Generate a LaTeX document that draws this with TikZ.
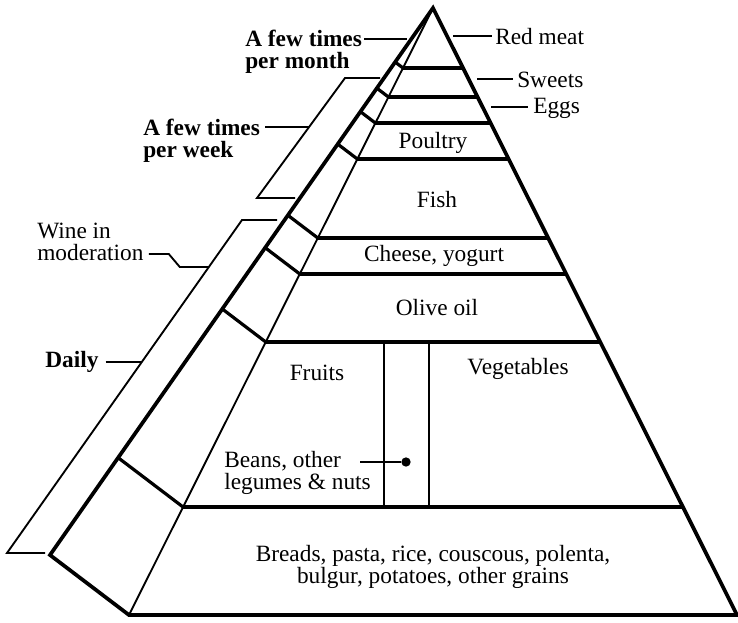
\documentclass[tikz,border=0pt]{standalone}
\usepackage{fontspec}
\setmainfont{Liberation Serif}
\usetikzlibrary{calc}
\tikzset{
	foodtext/.style={font=\fontsize{17.5}{16.5}\selectfont, inner sep=0pt, align=center}
}
\tikzset{
	freqtext/.style={font=\fontsize{17.5}{16.5}\selectfont\bfseries, inner sep=0pt, align=left, anchor=west}
}
\tikzset{
	edgeline/.style={line width=2.8pt},
	levelline/.style={line width=2.4pt},
	thinline/.style={line width=1.4pt}
}

\begin{document}
\begin{tikzpicture}[x=0.75pt,y=-0.75pt]
\useasboundingbox (0,0) rectangle (738,622);

			\begin{scope}
				\coordinate (apex) at (433,8);
				\coordinate (fl) at (129,615);
				\coordinate (fr) at (737,615);
				\coordinate (ol) at (50,555);

				\coordinate (lSw) at ($(apex)!0.0988!(fl)$);
				\coordinate (lEg) at ($(apex)!0.1466!(fl)$);
				\coordinate (lPo) at ($(apex)!0.1895!(fl)$);
				\coordinate (lFi) at ($(apex)!0.2488!(fl)$);
				\coordinate (lCh) at ($(apex)!0.3789!(fl)$);
				\coordinate (lOl) at ($(apex)!0.4382!(fl)$);
				\coordinate (lFr) at ($(apex)!0.5502!(fl)$);
				\coordinate (lBr) at ($(apex)!0.8221!(fl)$);

				\coordinate (rSw) at ($(apex)!0.0988!(fr)$);
				\coordinate (rEg) at ($(apex)!0.1466!(fr)$);
				\coordinate (rPo) at ($(apex)!0.1895!(fr)$);
				\coordinate (rFi) at ($(apex)!0.2488!(fr)$);
				\coordinate (rCh) at ($(apex)!0.3789!(fr)$);
				\coordinate (rOl) at ($(apex)!0.4382!(fr)$);
				\coordinate (rFr) at ($(apex)!0.5502!(fr)$);
				\coordinate (rBr) at ($(apex)!0.8221!(fr)$);

				\coordinate (oSw) at ($(apex)!0.0988!(ol)$);
				\coordinate (oEg) at ($(apex)!0.1466!(ol)$);
				\coordinate (oPo) at ($(apex)!0.1895!(ol)$);
				\coordinate (oFi) at ($(apex)!0.2488!(ol)$);
				\coordinate (oCh) at ($(apex)!0.3789!(ol)$);
				\coordinate (oOl) at ($(apex)!0.4382!(ol)$);
				\coordinate (oFr) at ($(apex)!0.5502!(ol)$);
				\coordinate (oBr) at ($(apex)!0.8221!(ol)$);

				\draw[thinline] (apex) -- (fl);

				\draw[levelline] (lSw) -- (rSw);
				\draw[levelline] (lEg) -- (rEg);
				\draw[levelline] (lPo) -- (rPo);
				\draw[levelline] (lFi) -- (rFi);
				\draw[levelline] (lCh) -- (rCh);
				\draw[levelline] (lOl) -- (rOl);
				\draw[levelline] (lFr) -- (rFr);
				\draw[levelline] (lBr) -- (rBr);

				\draw[levelline] (lSw) -- (oSw);
				\draw[levelline] (lEg) -- (oEg);
				\draw[levelline] (lPo) -- (oPo);
				\draw[levelline] (lFi) -- (oFi);
				\draw[levelline] (lCh) -- (oCh);
				\draw[levelline] (lOl) -- (oOl);
				\draw[levelline] (lFr) -- (oFr);
				\draw[levelline] (lBr) -- (oBr);

				\draw[edgeline] (fr) -- (apex) -- (ol) -- (fl) -- cycle;
			\end{scope}

			\begin{scope}
				\coordinate (vAt) at (384,342);
				\coordinate (vAb) at (384,507);
				\coordinate (vBt) at (429,342);
				\coordinate (vBb) at (429,507);
				\draw[line width=2pt] (vAt) -- (vAb);
				\draw[line width=2pt] (vBt) -- (vBb);
			\end{scope}

			\node[foodtext] (poultry) at (433,143) {Poultry};
			\node[foodtext] (fish) at (437,200) {Fish};
			\node[foodtext] (cheese) at (434,256) {Cheese, yogurt};
			\node[foodtext] (olive) at (437,308) {Olive oil};
			\node[foodtext] (fruits) at (317,373) {Fruits};
			\node[foodtext] (veg) at (518,369) {Vegetables};
			\node[foodtext] (breads) at (433,567) {Breads, pasta, rice, couscous, polenta,\\bulgur, potatoes, other grains};

			\begin{scope}
				\node[foodtext, anchor=west] (redmeat) at (495,37) {Red meat};
				\node[foodtext, anchor=west] (sweets) at (517,80) {Sweets};
				\node[foodtext, anchor=west] (eggs) at (533,108) {Eggs};

				\coordinate (rmL) at (453,36);
				\coordinate (swL) at (477,79);
				\coordinate (egL) at (491,107);

				\draw[thinline, shorten >=2pt] (rmL) -- (rmL -| redmeat.west);
				\draw[thinline, shorten >=3pt] (swL) -- (swL -| sweets.west);
				\draw[thinline, shorten >=4pt] (egL) -- (egL -| eggs.west);
			\end{scope}

			\begin{scope}
				\node[foodtext, align=left, anchor=west] (beans) at (224,473) {Beans, other\\legumes \& nuts};
				\node[circle, fill, inner sep=0pt, minimum size=7pt] (dot) at (406,462) {};
				\coordinate (bnL) at (360,462);
				\draw[thinline] (bnL) -- (dot);
			\end{scope}

			\begin{scope}
				\node[freqtext] (month) at (245,52) {A few times\\per month};
				\coordinate (mnL) at (407,39);
				\draw[thinline] ($(month.east |- mnL)+(2,0)$) -- (mnL);

				\coordinate (wkT) at (380,78);
				\coordinate (wkTa) at (345,78);
				\coordinate (wkBa) at (257,198);
				\coordinate (wkB) at (295,198);
				\coordinate (wkL) at (309,127);
				\node[freqtext] (week) at (143,141) {A few times\\per week};
				\draw[thinline] (wkT) -- (wkTa) -- (wkBa) -- (wkB);
				\draw[thinline] ($(week.east |- wkL)+(5,0)$) -- (wkL);

				\coordinate (dyT) at (277,220);
				\coordinate (dyTa) at (242,220);
				\coordinate (dyBa) at (7,553);
				\coordinate (dyB) at (45,553);
				\coordinate (wnL) at (209,267);
				\coordinate (dyL) at (142,362);
				\draw[thinline] (dyT) -- (dyTa) -- (dyBa) -- (dyB);

				\node[foodtext, align=left, anchor=west] (wine) at (37,242) {Wine in\\moderation};
				\draw[thinline] ($(wine.east |- 0,254)+(5,0)$) -- ++(20,0) -- ++(11,13) -- (wnL);

				\node[freqtext] (daily) at (45,362) {Daily};
				\draw[thinline] ($(daily.east)+(7,0)$) -- (dyL);
			\end{scope}

		\end{tikzpicture}
\end{document}
